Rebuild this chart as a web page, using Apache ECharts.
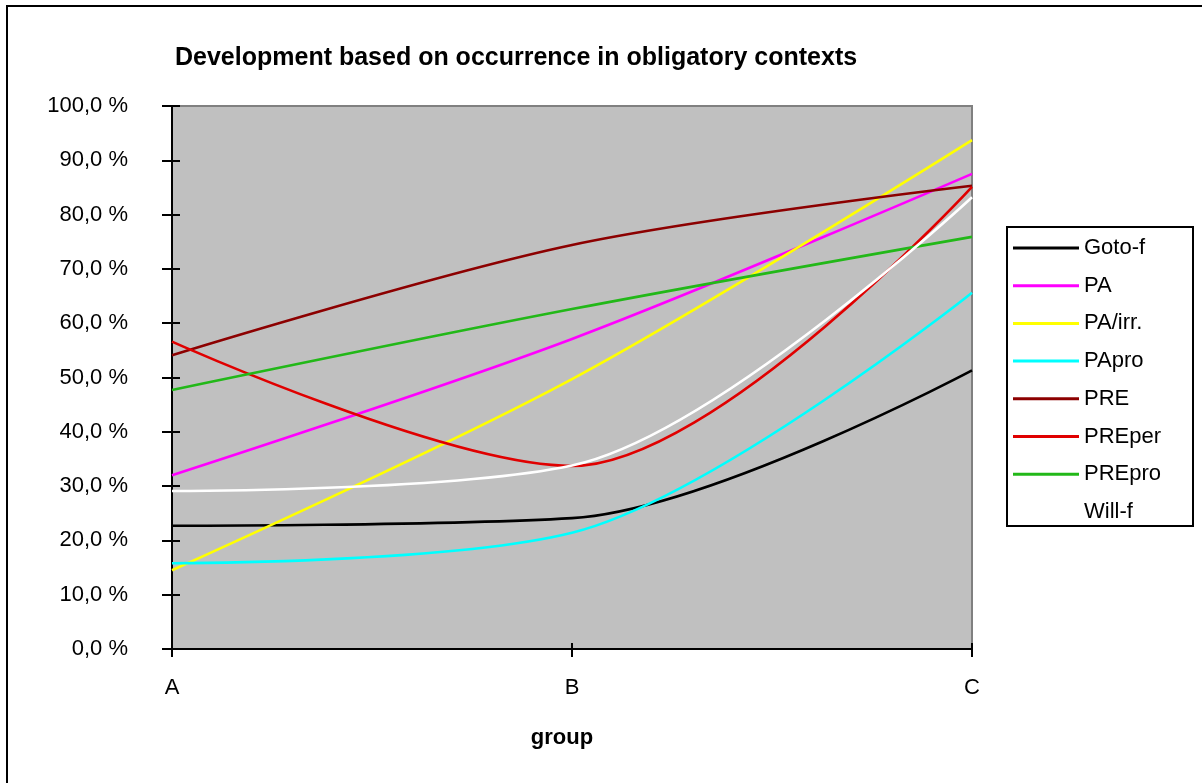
<!DOCTYPE html>
<html>
<head>
<meta charset="utf-8">
<title>Development based on occurrence in obligatory contexts</title>
<script src="https://cdn.jsdelivr.net/npm/echarts@6/dist/echarts.min.js"></script>
<style>
  html, body { margin: 0; padding: 0; background: #fff; }
  #chart { width: 1202px; height: 783px; }
</style>
</head>
<body>
<div id="chart"></div>
<script>
// categories on the x axis
const groups = ['A', 'B', 'C']
// y axis ticks (percent)
const yTicks = [0, 10, 20, 30, 40, 50, 60, 70, 80, 90, 100]

// series values (percent)
const gotoF = [22.7, 24.1, 51.3]
const pa = [32.0, 57.1, 87.5]
const paIrr = [14.5, 49.7, 93.7]
const paPro = [15.8, 21.4, 65.6]
const pre = [54.1, 74.4, 85.3]
const prePer = [56.6, 33.7, 85.1]
const prePro = [47.7, 62.6, 75.9]
const willF = [29.1, 33.8, 83.2]

const seriesNames = ['Goto-f', 'PA', 'PA/irr.', 'PApro', 'PRE', 'PREper', 'PREpro', 'Will-f']
const seriesData = [gotoF, pa, paIrr, paPro, pre, prePer, prePro, willF]
const seriesColors = ['#000000', '#ff00ff', '#ffff00', '#00ffff', '#8c0000', '#e00000', '#22b818', '#ffffff']

const font = 'Liberation Sans, Arial, Helvetica, sans-serif'

const chart = echarts.init(document.getElementById('chart'))

const yCommon = {
  type: 'value',
  min: yTicks[0],
  max: yTicks[yTicks.length - 1],
  interval: yTicks[1] - yTicks[0],
  position: 'left',
  splitLine: { show: false }
}
const xCommon = {
  type: 'category',
  data: groups,
  boundaryGap: false,
  position: 'bottom'
}

const option = {
  animation: false,
  textStyle: { fontFamily: font },
  title: {
    text: 'Development based on occurrence in obligatory contexts',
    left: 175,
    top: 46,
    padding: 0,
    textStyle: { fontFamily: font, fontSize: 25, fontWeight: 'bold', color: '#000' }
  },
  grid: {
    left: 172,
    right: 230,
    top: 106,
    bottom: 134,
    show: true,
    backgroundColor: '#c0c0c0',
    borderColor: '#808080',
    borderWidth: 2
  },
  legend: {
    orient: 'vertical',
    left: 1013,
    top: 237,
    padding: 0,
    icon: 'rect',
    itemWidth: 66,
    itemHeight: 3,
    itemGap: 15.7,
    selectedMode: false,
    data: seriesNames,
    textStyle: { fontFamily: font, fontSize: 22, lineHeight: 22, color: '#000' }
  },
  xAxis: [
    Object.assign({}, xCommon, {
      name: 'group',
      nameLocation: 'middle',
      nameGap: 78,
      nameTextStyle: { fontFamily: font, fontSize: 22, fontWeight: 'bold', color: '#000', padding: [0, 20, 0, 0] },
      axisLine: { lineStyle: { color: '#000', width: 2 } },
      axisTick: { length: 8, lineStyle: { color: '#000', width: 2 } },
      axisLabel: { margin: 28, fontSize: 22, color: '#000', fontFamily: font }
    }),
    // second axis only for the inside half of the crossing ticks
    Object.assign({}, xCommon, {
      axisLine: { show: false },
      axisTick: { inside: true, length: 6, lineStyle: { color: '#000', width: 2 } },
      axisLabel: { show: false }
    })
  ],
  yAxis: [
    Object.assign({}, yCommon, {
      axisLine: { show: true, lineStyle: { color: '#000', width: 2 } },
      axisTick: { show: true, length: 10, lineStyle: { color: '#000', width: 2 } },
      axisLabel: {
        margin: 44,
        fontSize: 22,
        color: '#000',
        fontFamily: font,
        formatter: (v) => v.toFixed(1).replace('.', ',') + ' %'
      }
    }),
    Object.assign({}, yCommon, {
      axisLine: { show: false },
      axisTick: { show: true, inside: true, length: 8, lineStyle: { color: '#000', width: 2 } },
      axisLabel: { show: false }
    })
  ],
  series: seriesNames.map((name, i) => ({
    name: name,
    type: 'line',
    data: seriesData[i],
    smooth: 0.33,
    showSymbol: false,
    symbol: 'none',
    lineStyle: { color: seriesColors[i], width: 2.6 },
    itemStyle: { color: seriesColors[i] }
  })),
  graphic: [
    // outer frame (only left and top edges are visible in the picture)
    {
      type: 'rect',
      shape: { x: 7, y: 6, width: 1220, height: 800 },
      style: { fill: 'none', stroke: '#000', lineWidth: 2 },
      silent: true
    },
    // legend box
    {
      type: 'rect',
      shape: { x: 1007, y: 227, width: 186, height: 299 },
      style: { fill: 'none', stroke: '#000', lineWidth: 2 },
      silent: true
    }
  ]
}

chart.setOption(option)
</script>
</body>
</html>
